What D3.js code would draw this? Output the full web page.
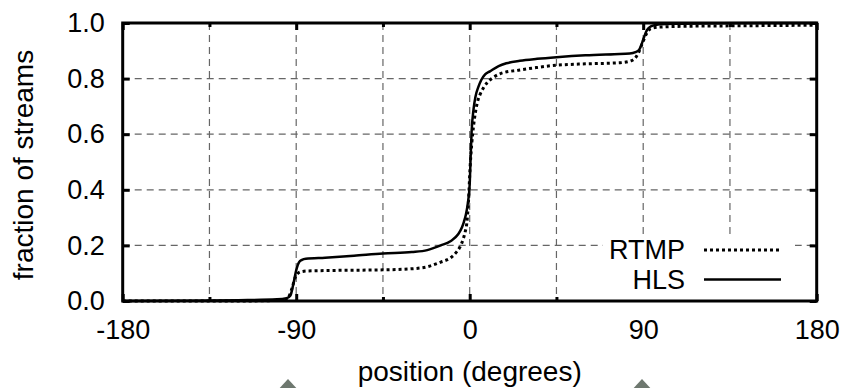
<!DOCTYPE html>
<html>
<head>
<meta charset="utf-8">
<script src="https://cdn.jsdelivr.net/npm/d3@7"></script>
<style>
  body { margin: 0; background: #fff; }
  text { font-family: "Liberation Sans", Arial, sans-serif; fill: #000; }
</style>
</head>
<body>
<div class="cdf-chart"></div>
<script>
// ------------------------------------------------------
const width = 848;
const height = 388;
const xTicks = [ -180, -90, 0, 90, 180 ];
const xMinorTicks = [ -135, -45, 45, 135 ];
const yTicks = [ 0, 0.2, 0.4, 0.6, 0.8, 1.0 ];
const seriesNames = [ 'RTMP', 'HLS' ];
// ------------------------------------------------------
const hlsDeg = [ -180, -150, -120, -100, -95, -93, -91.5, -90, -88.5, -87, -85, -75, -60, -45, -30,
    -22, -15, -10, -6, -4, -3, -2, -1, 0, 0.5, 1, 2, 3, 4.5, 6, 8, 10.5, 15, 19, 26, 35, 45, 60,
    75, 83, 86, 88, 89, 90.5, 92, 94, 97, 105, 130, 180 ];
const hlsVal = [ 0, 0.001, 0.003, 0.006, 0.01, 0.02, 0.06, 0.11, 0.14, 0.148, 0.152, 0.156, 0.163,
    0.171, 0.176, 0.183, 0.2, 0.215, 0.24, 0.265, 0.285, 0.31, 0.35, 0.42, 0.52, 0.61, 0.69, 0.735,
    0.77, 0.795, 0.815, 0.826, 0.845, 0.855, 0.864, 0.871, 0.877, 0.884, 0.888, 0.89, 0.895, 0.905,
    0.92, 0.95, 0.975, 0.988, 0.994, 0.997, 0.999, 1.0 ];
const rtmpDeg = [ -180, -120, -100, -95, -93.5, -92, -90.5, -89, -87, -84, -70, -45, -30, -22, -15,
    -10, -7, -5, -3.5, -2.3, -1.5, -0.7, 0.2, 1, 2, 3, 4, 5.5, 7, 9, 12, 16, 26, 35, 43, 60, 78,
    84, 86.5, 88, 90, 92, 94, 98, 110, 140, 180 ];
const rtmpVal = [ 0, 0, 0.002, 0.005, 0.02, 0.05, 0.085, 0.1, 0.106, 0.108, 0.11, 0.112, 0.116,
    0.123, 0.14, 0.155, 0.175, 0.195, 0.22, 0.25, 0.28, 0.35, 0.48, 0.56, 0.63, 0.68, 0.715, 0.745,
    0.765, 0.785, 0.803, 0.818, 0.831, 0.84, 0.847, 0.853, 0.857, 0.865, 0.88, 0.9, 0.935, 0.965,
    0.98, 0.985, 0.988, 0.99, 0.992 ];
// ------------------------------------------------------
const plotLeft = 122.7, plotRight = 816.7, plotTop = 23, plotBottom = 301;
// ------------------------------------------------------
window.addEventListener( 'load', function () {
    let svg = d3.select( '.cdf-chart' )
        .append( 'svg' )
        .attr( 'width', width )
        .attr( 'height', height );

    let x = d3.scaleLinear().domain( [ -180, 180 ] ).range( [ plotLeft, plotRight ] );
    let y = d3.scaleLinear().domain( [ 0, 1 ] ).range( [ plotBottom, plotTop ] );

    // grid
    let grid = svg.append( 'g' )
        .attr( 'stroke', '#666' )
        .attr( 'stroke-width', 1.2 )
        .attr( 'stroke-dasharray', '7,5' );
    grid.selectAll( '.vgrid' )
        .data( xTicks.concat( xMinorTicks ).filter( d => d > -180 && d < 180 ) )
        .enter().append( 'line' )
        .attr( 'x1', d => x( d ) ).attr( 'x2', d => x( d ) )
        .attr( 'y1', plotTop ).attr( 'y2', plotBottom );
    grid.selectAll( '.hgrid' )
        .data( yTicks.filter( d => d > 0 && d < 1 ) )
        .enter().append( 'line' )
        .attr( 'x1', plotLeft ).attr( 'x2', plotRight )
        .attr( 'y1', d => y( d ) ).attr( 'y2', d => y( d ) );

    // curves
    let line = d3.line()
        .x( d => x( d[0] ) )
        .y( d => y( d[1] ) )
        .curve( d3.curveMonotoneX );

    let rtmp = d3.zip( rtmpDeg, rtmpVal );
    let hls = d3.zip( hlsDeg, hlsVal );

    svg.append( 'path' )
        .datum( rtmp )
        .attr( 'd', line )
        .attr( 'fill', 'none' )
        .attr( 'stroke', '#000' )
        .attr( 'stroke-width', 3 )
        .attr( 'stroke-dasharray', '3,3' );
    svg.append( 'path' )
        .datum( hls )
        .attr( 'd', line )
        .attr( 'fill', 'none' )
        .attr( 'stroke', '#000' )
        .attr( 'stroke-width', 2.5 );

    // axes (ticks inward)
    let xAxis = svg.append( 'g' )
        .attr( 'transform', 'translate(0,' + plotBottom + ')' )
        .call( d3.axisBottom( x ).tickValues( xTicks ).tickSize( -7 ).tickPadding( 19 ).tickFormat( d => String( d ) ) );
    let xAxisMinor = svg.append( 'g' )
        .attr( 'transform', 'translate(0,' + plotBottom + ')' )
        .call( d3.axisBottom( x ).tickValues( xMinorTicks ).tickSize( -4 ).tickFormat( '' ) );
    let xTop = svg.append( 'g' )
        .attr( 'transform', 'translate(0,' + plotTop + ')' )
        .call( d3.axisTop( x ).tickValues( xTicks ).tickSize( -7 ).tickFormat( '' ) );
    let xTopMinor = svg.append( 'g' )
        .attr( 'transform', 'translate(0,' + plotTop + ')' )
        .call( d3.axisTop( x ).tickValues( xMinorTicks ).tickSize( -4 ).tickFormat( '' ) );
    let yAxis = svg.append( 'g' )
        .attr( 'transform', 'translate(' + plotLeft + ',0)' )
        .call( d3.axisLeft( y ).tickValues( yTicks ).tickSize( -7 ).tickPadding( 18 ).tickFormat( d => d.toFixed( 1 ) ) );
    let yRight = svg.append( 'g' )
        .attr( 'transform', 'translate(' + plotRight + ',0)' )
        .call( d3.axisRight( y ).tickValues( yTicks ).tickSize( -7 ).tickFormat( '' ) );

    [ xAxis, xAxisMinor, xTop, xTopMinor, yAxis, yRight ].forEach( function ( g ) {
        g.select( '.domain' ).remove();
        g.selectAll( '.tick line' ).attr( 'stroke', '#000' ).attr( 'stroke-width', 3 );
        g.selectAll( '.tick text' )
            .style( 'font-family', '"Liberation Sans", Arial, sans-serif' )
            .attr( 'font-size', '27px' )
            .attr( 'fill', '#000' );
    });

    // legend box (opaque)
    let legend = svg.append( 'g' );
    legend.append( 'rect' )
        .attr( 'x', 603 ).attr( 'y', 235 )
        .attr( 'width', 192 ).attr( 'height', plotBottom - 235 )
        .attr( 'fill', '#fff' );
    let legendRows = legend.selectAll( '.legend-row' )
        .data( seriesNames )
        .enter().append( 'g' )
        .attr( 'transform', ( d, i ) => 'translate(0,' + ( 250 + i * 29.5 ) + ')' );
    legendRows.append( 'text' )
        .attr( 'x', 685 )
        .attr( 'dy', '0.35em' )
        .attr( 'text-anchor', 'end' )
        .attr( 'font-size', '27px' )
        .text( d => d );
    legendRows.append( 'line' )
        .attr( 'x1', 704 ).attr( 'x2', 781 )
        .attr( 'stroke', '#000' )
        .attr( 'stroke-width', d => d === 'RTMP' ? 3 : 2.5 )
        .attr( 'stroke-dasharray', d => d === 'RTMP' ? '3,3' : null );

    // frame
    svg.append( 'rect' )
        .attr( 'x', plotLeft ).attr( 'y', plotTop )
        .attr( 'width', plotRight - plotLeft ).attr( 'height', plotBottom - plotTop )
        .attr( 'fill', 'none' )
        .attr( 'stroke', '#000' )
        .attr( 'stroke-width', 3 );

    // axis titles
    svg.append( 'text' )
        .attr( 'x', ( plotLeft + plotRight ) / 2 )
        .attr( 'y', 381 )
        .attr( 'text-anchor', 'middle' )
        .attr( 'font-size', '28px' )
        .text( 'position (degrees)' );
    svg.append( 'text' )
        .attr( 'transform', 'translate(33,165) rotate(-90)' )
        .attr( 'text-anchor', 'middle' )
        .attr( 'font-size', '28px' )
        .text( 'fraction of streams' );

    // gray markers peeking in at the bottom edge
    svg.selectAll( '.marker' )
        .data( [ 288, 642 ] )
        .enter().append( 'path' )
        .attr( 'transform', d => 'translate(' + d + ',392)' )
        .attr( 'd', 'M0,-13L12,0L0,13L-12,0Z' )
        .attr( 'fill', '#6e786f' );
}, false );
</script>
</body>
</html>
